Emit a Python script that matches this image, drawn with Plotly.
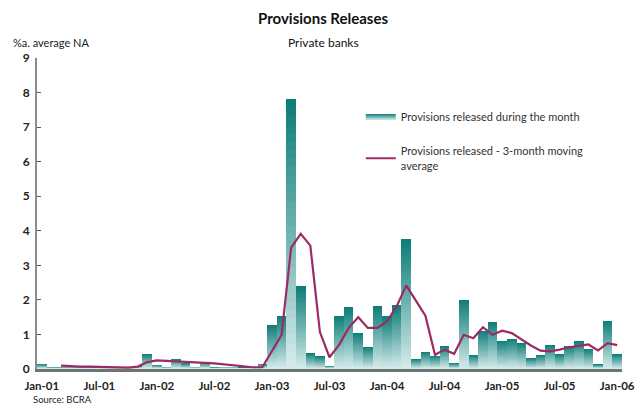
import plotly.graph_objects as go

# Monthly categories, Jan-01 .. Jan-06
month_abbr = ["Jan", "Feb", "Mar", "Apr", "May", "Jun",
              "Jul", "Aug", "Sep", "Oct", "Nov", "Dec"]
months = [f"{month_abbr[m]}-{y:02d}" for y in range(1, 7) for m in range(12)][:61]
tick_labels = ["Jan-01", "Jul-01", "Jan-02", "Jul-02", "Jan-03", "Jul-03",
               "Jan-04", "Jul-04", "Jan-05", "Jul-05", "Jan-06"]

# Provisions released during the month (% of average net assets, annualised)
released_month = [
    0.15, 0.05, 0.05, 0.06, 0.05, 0.04, 0.04, 0.03, 0.03, 0.04, 0.08, 0.44,
    0.13, 0.07, 0.30, 0.17, 0.07, 0.21, 0.04, 0.07, 0.07, 0.03, 0.03, 0.15,
    1.28, 1.54, 7.80, 2.39, 0.46, 0.37, 0.10, 1.54, 1.80, 1.05, 0.65, 1.83,
    1.54, 1.86, 3.77, 0.30, 0.50, 0.39, 0.67, 0.18, 2.01, 0.41, 1.11, 1.37,
    0.82, 0.88, 0.76, 0.32, 0.41, 0.70, 0.43, 0.67, 0.81, 0.58, 0.14, 1.40,
    0.43,
]

# Provisions released - 3-month moving average
released_3m_avg = [
    None, None, 0.10, 0.08, 0.07, 0.07, 0.06, 0.05, 0.04, 0.04, 0.07, 0.20,
    0.25, 0.24, 0.22, 0.21, 0.20, 0.18, 0.16, 0.13, 0.10, 0.07, 0.05, 0.05,
    0.50, 0.99, 3.51, 3.91, 3.57, 1.07, 0.34, 0.70, 1.19, 1.50, 1.19, 1.19,
    1.38, 1.81, 2.42, 1.99, 1.54, 0.41, 0.56, 0.44, 0.99, 0.89, 1.21, 0.99,
    1.11, 1.04, 0.85, 0.68, 0.53, 0.51, 0.56, 0.63, 0.67, 0.71, 0.54, 0.75,
    0.69,
]

TEAL_DARK = (14, 126, 121)
TEAL_LIGHT = (212, 234, 234)
LINE_COLOR = "#9c2a63"
FONT = "Lato, 'Open Sans', sans-serif"


def mix(c1, c2, t):
    return "rgb({},{},{})".format(*[round(a + (b - a) * t) for a, b in zip(c1, c2)])


fig = go.Figure()

# Vertical gradient inside each bar: overlaid bars, each shorter and lighter
levels = 32
for k in range(levels):
    frac = (levels - k) / levels
    fig.add_trace(go.Bar(
        x=months,
        y=[v * frac for v in released_month],
        marker=dict(color=mix(TEAL_DARK, TEAL_LIGHT, k / (levels - 1)), line=dict(width=0)),
        showlegend=False,
        hoverinfo="skip",
    ))

# Legend entry for the bars (gradient swatch)
fig.add_trace(go.Scatter(
    x=[None], y=[None], mode="none", fill="toself",
    fillgradient=dict(type="vertical",
                      colorscale=[[0, mix(TEAL_LIGHT, TEAL_LIGHT, 0)], [1, mix(TEAL_DARK, TEAL_DARK, 0)]]),
    name="Provisions released during the month",
    legendgroup="a",
))

fig.add_trace(go.Scatter(
    x=months,
    y=released_3m_avg,
    mode="lines",
    line=dict(color=LINE_COLOR, width=2.2),
    name="Provisions released - 3-month moving<br>average",
    legendgroup="b",
    connectgaps=False,
))

fig.update_layout(
    width=638, height=406,
    margin=dict(l=37, r=16, t=58, b=37),
    paper_bgcolor="white", plot_bgcolor="white",
    barmode="overlay", bargap=0,
    font=dict(family=FONT, color="#222222", size=11),
    showlegend=True,
    legend=dict(
        x=0.5535, y=0.857, xanchor="left", yanchor="top",
        bgcolor="rgba(0,0,0,0)", tracegroupgap=16,
        font=dict(size=11, color="#333333"),
        itemwidth=30,
    ),
    xaxis=dict(
        type="category",
        categoryorder="array", categoryarray=months,
        range=[-0.5, 60.5],
        tickmode="array", tickvals=tick_labels, ticktext=tick_labels,
        tickfont=dict(family=FONT, size=11.5, color="#222222", weight="bold"),
        ticks="", showgrid=False, zeroline=False,
        showline=True, linecolor="#6c7474", linewidth=3,
        ticklabelstandoff=4, automargin=False,
    ),
    yaxis=dict(
        range=[0, 9], tickvals=list(range(10)),
        tickfont=dict(family=FONT, size=12, color="#222222", weight="bold"),
        ticks="inside", ticklen=4, tickcolor="#555555", tickwidth=1,
        showgrid=False, zeroline=False,
        showline=True, linecolor="#8c8c8c", linewidth=2,
        ticklabelstandoff=3, automargin=False,
    ),
    annotations=[
        dict(text="<b>Provisions Releases</b>", xref="paper", yref="paper",
             x=0.489, y=1.1286, xanchor="center", yanchor="middle", showarrow=False,
             font=dict(size=15, color="#111111")),
        dict(text="Private banks", xref="paper", yref="paper",
             x=0.489, y=1.0514, xanchor="center", yanchor="middle", showarrow=False,
             font=dict(size=12, color="#111111")),
        dict(text="%a. average NA", xref="paper", yref="paper", x=-0.044, y=1.049,
             xanchor="left", yanchor="middle", showarrow=False,
             font=dict(size=11, color="#222222")),
        dict(text="Source: BCRA", xref="paper", yref="paper", x=-0.008, y=-0.1175,
             xanchor="left", yanchor="bottom", showarrow=False, borderpad=0,
             font=dict(size=9.5, color="#222222")),
    ],
)

fig.write_html("out.html")
